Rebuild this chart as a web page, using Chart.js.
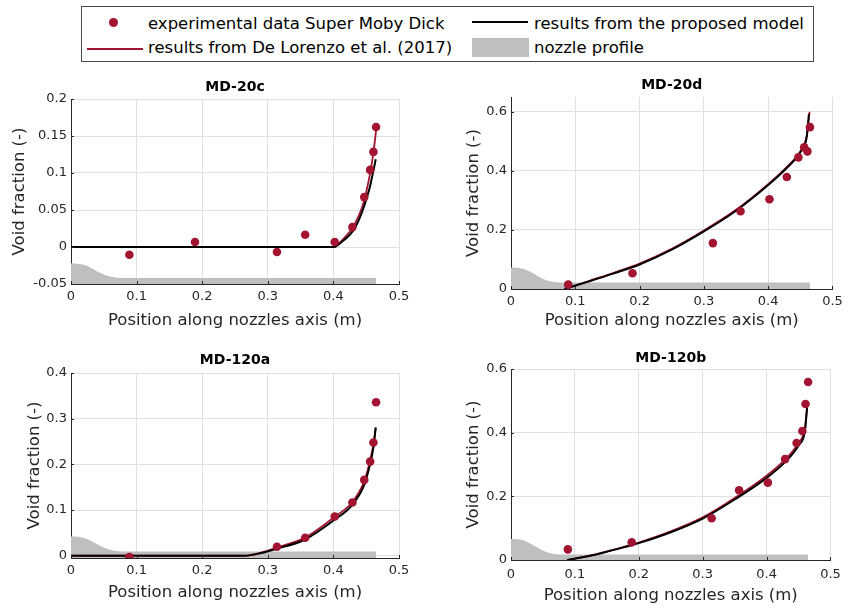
<!DOCTYPE html>
<html>
<head>
<meta charset="utf-8">
<title>Void fraction along the nozzle — Super Moby Dick</title>
<script src="https://cdn.jsdelivr.net/npm/chart.js@4.4.1/dist/chart.umd.min.js"></script>
<style>
  html, body { margin: 0; padding: 0; background: #fff; }
  body { position: relative; width: 848px; height: 611px; overflow: hidden;
         font-family: "DejaVu Sans", sans-serif; color: #000; }
  canvas { position: absolute; }
  .lg-box { position: absolute; left: 81px; top: 6px; width: 733px; height: 56px;
            border: 1px solid #4a4a4a; box-sizing: border-box; }
  .lg-text { position: absolute; font-size: 16.5px; line-height: 20px; white-space: nowrap; }
  .lg-line { position: absolute; height: 2px; }
  .lg-dot { position: absolute; width: 9px; height: 9px; border-radius: 50%; }
  .lg-patch { position: absolute; }
</style>
</head>
<body>

<div class="lg-box"></div>
<div class="lg-dot" style="left:109px;top:18px;background:#a2142f"></div>
<div class="lg-text" style="left:148px;top:14px">experimental data Super Moby Dick</div>
<div class="lg-line" style="left:472px;top:21px;width:56px;background:#000"></div>
<div class="lg-text" style="left:534px;top:14px">results from the proposed model</div>
<div class="lg-line" style="left:87px;top:48px;width:56px;background:#a2142f"></div>
<div class="lg-text" style="left:148px;top:37.5px">results from De Lorenzo et al. (2017)</div>
<div class="lg-patch" style="left:472px;top:38px;width:57px;height:19px;background:#bfbfbf"></div>
<div class="lg-text" style="left:534px;top:37.5px">nozzle profile</div>

<canvas id="md20c"></canvas>
<canvas id="md20d"></canvas>
<canvas id="md120a"></canvas>
<canvas id="md120b"></canvas>

<script>
// ---- shared axis ticks -------------------------------------------------
const xTicks = [0, 0.1, 0.2, 0.3, 0.4, 0.5];
const xTickLabels = ['0', '0.1', '0.2', '0.3', '0.4', '0.5'];

// nozzle profile abscissae (m); heights are given per panel in its own units
const nozzleX = [0, 0.01, 0.02, 0.03, 0.04, 0.05, 0.06, 0.07, 0.08, 0.465];

// probe stations along the nozzle (m)
const probeX = [0.089, 0.189, 0.314, 0.357, 0.402, 0.429, 0.447, 0.456, 0.461, 0.465];
const probeX120a = [0.089, 0.314, 0.357, 0.402, 0.429, 0.447, 0.456, 0.461, 0.465];

// ---- MD-20c ------------------------------------------------------------
const yTicks20c = [-0.05, 0, 0.05, 0.1, 0.15, 0.2];
const yLabels20c = ['-0.05', '0', '0.05', '0.1', '0.15', '0.2'];
const exp20c = [-0.0104, 0.0067, -0.0068, 0.0165, 0.0067, 0.0269, 0.0674, 0.1042, 0.1285, 0.1622];
const modelX20c = [0, 0.401, 0.413, 0.425, 0.433, 0.44, 0.446, 0.45, 0.455, 0.458, 0.4615, 0.4645];
const model20c  = [0, 0, 0.007, 0.0165, 0.026, 0.039, 0.053, 0.064, 0.079, 0.091, 0.105, 0.1186];
const refX20c = [0, 0.401, 0.413, 0.425, 0.433, 0.44, 0.446, 0.45, 0.455, 0.458, 0.461, 0.4635, 0.4655];
const ref20c  = [0, 0, 0.009, 0.021, 0.032, 0.045, 0.06, 0.074, 0.095, 0.11, 0.128, 0.145, 0.162];
const nozzle20c = [-0.022, -0.0225, -0.024, -0.028, -0.033, -0.037, -0.040, -0.0415, -0.042, -0.042];

// ---- MD-20d ------------------------------------------------------------
const yTicks20d = [0, 0.2, 0.4, 0.6];
const yLabels20d = ['0', '0.2', '0.4', '0.6'];
const exp20d = [0.0147, 0.0533, 0.1554, 0.263, 0.304, 0.379, 0.4457, 0.4798, 0.466, 0.548];
const modelX20d = [0.083, 0.12, 0.16, 0.2, 0.25, 0.3, 0.35, 0.4, 0.43, 0.45, 0.46, 0.4634];
const model20d  = [0, 0.025, 0.053, 0.083, 0.133, 0.195, 0.265, 0.352, 0.412, 0.463, 0.515, 0.593];
const refX20d = [0.085, 0.12, 0.16, 0.2, 0.25, 0.3, 0.35, 0.4, 0.43, 0.45, 0.46, 0.4644];
const ref20d  = [0, 0.026, 0.055, 0.086, 0.136, 0.198, 0.268, 0.355, 0.415, 0.466, 0.52, 0.6];
const nozzle20d = [0.073, 0.072, 0.068, 0.058, 0.046, 0.034, 0.026, 0.023, 0.022, 0.022];

// ---- MD-120a -----------------------------------------------------------
const yTicks120a = [0, 0.1, 0.2, 0.3, 0.4];
const yLabels120a = ['0', '0.1', '0.2', '0.3', '0.4'];
const exp120a = [-0.003, 0.0197, 0.0393, 0.086, 0.1166, 0.166, 0.206, 0.248, 0.336];
const modelX120a = [0, 0.265, 0.29, 0.3134, 0.356, 0.4, 0.4285, 0.447, 0.455, 0.461, 0.4645];
const model120a  = [0, 0, 0.006, 0.0153, 0.035, 0.077, 0.111, 0.155, 0.195, 0.237, 0.281];
const refX120a = [0, 0.265, 0.29, 0.3134, 0.356, 0.4, 0.4285, 0.447, 0.455, 0.461, 0.4645];
const ref120a  = [0, 0, 0.007, 0.0175, 0.039, 0.083, 0.117, 0.163, 0.203, 0.243, 0.28];
const nozzle120a = [0.042, 0.0415, 0.039, 0.033, 0.025, 0.018, 0.013, 0.0105, 0.0095, 0.0095];

// ---- MD-120b -----------------------------------------------------------
const yTicks120b = [0, 0.2, 0.4, 0.6];
const yLabels120b = ['0', '0.2', '0.4', '0.6'];
const exp120b = [0.0335, 0.0555, 0.131, 0.219, 0.243, 0.317, 0.3675, 0.405, 0.49, 0.559];
const modelX120b = [0.088, 0.12, 0.15, 0.2, 0.25, 0.3, 0.35, 0.4, 0.43, 0.45, 0.46, 0.4634];
const model120b  = [0, 0.0115, 0.026, 0.053, 0.087, 0.13, 0.19, 0.258, 0.31, 0.36, 0.405, 0.477];
const refX120b = [0.088, 0.12, 0.15, 0.2, 0.25, 0.3, 0.35, 0.4, 0.43, 0.45, 0.46, 0.4638];
const ref120b  = [0, 0.012, 0.027, 0.055, 0.09, 0.134, 0.195, 0.265, 0.318, 0.368, 0.414, 0.488];
const nozzle120b = [0.066, 0.065, 0.061, 0.052, 0.041, 0.030, 0.022, 0.018, 0.017, 0.017];

// ---- styling -----------------------------------------------------------
const RED = '#a2142f';
const GRAY = '#bfbfbf';
const INK = '#262626';
const GRID = '#e0e0e0';
const FONT = '"DejaVu Sans", sans-serif';
const LABEL_SIZE = 16.5;
const LABEL_LH = LABEL_SIZE * 1.2;

// bold panel heading centred over the plotting area
const panelTitle = {
  id: 'panelTitle',
  afterDraw(chart, args, opts) {
    const { ctx, chartArea } = chart;
    ctx.save();
    ctx.font = 'bold 14px ' + FONT;
    ctx.fillStyle = '#000';
    ctx.textAlign = 'center';
    ctx.textBaseline = 'middle';
    ctx.fillText(opts.text, (chartArea.left + chartArea.right) / 2, opts.y);
    ctx.restore();
  }
};

// short tick marks pointing into the plotting area
const innerTicks = {
  id: 'innerTicks',
  afterDatasetsDraw(chart) {
    const { ctx, chartArea, scales } = chart;
    const len = 3;
    ctx.save();
    ctx.strokeStyle = INK;
    ctx.lineWidth = 1;
    ctx.beginPath();
    scales.x.ticks.forEach(t => {
      const px = Math.round(scales.x.getPixelForValue(t.value)) + 0.5;
      ctx.moveTo(px, chartArea.bottom);
      ctx.lineTo(px, chartArea.bottom - len);
    });
    scales.y.ticks.forEach(t => {
      const py = Math.round(scales.y.getPixelForValue(t.value)) + 0.5;
      ctx.moveTo(chartArea.left, py);
      ctx.lineTo(chartArea.left + len, py);
    });
    ctx.stroke();
    ctx.restore();
  }
};

const pairs = (xs, ys) => xs.map((x, i) => ({ x, y: ys[i] }));

function panel(id, g, d) {
  const b = g.box, a = g.area;
  const c = document.getElementById(id);
  c.width = b.w; c.height = b.h;
  c.style.left = b.x + 'px'; c.style.top = b.y + 'px';
  c.style.width = b.w + 'px'; c.style.height = b.h + 'px';

  new Chart(c, {
    type: 'scatter',
    plugins: [innerTicks, panelTitle],
    data: {
      datasets: [
        { label: 'experimental data Super Moby Dick', data: pairs(d.expX, d.expY),
          pointRadius: 4.3, pointBackgroundColor: RED, pointBorderWidth: 0,
          borderWidth: 0, showLine: false, order: 0 },
        { type: 'line', label: 'results from the proposed model', data: pairs(d.modelX, d.modelY),
          borderColor: '#000', borderWidth: 2, pointRadius: 0, fill: false,
          cubicInterpolationMode: 'monotone', order: 1 },
        { type: 'line', label: 'results from De Lorenzo et al. (2017)', data: pairs(d.refX, d.refY),
          borderColor: RED, borderWidth: 1.8, pointRadius: 0, fill: false,
          cubicInterpolationMode: 'monotone', order: 2 },
        { type: 'line', label: 'nozzle profile', data: pairs(nozzleX, d.nozzleY),
          borderColor: 'rgba(0,0,0,0)', borderWidth: 0, backgroundColor: GRAY,
          pointRadius: 0, fill: 'start', cubicInterpolationMode: 'monotone', order: 3 }
      ]
    },
    options: {
      responsive: false,
      animation: false,
      events: [],
      devicePixelRatio: 1,
      layout: { padding: { left: 0, top: a.top - b.y, right: b.x + b.w - a.right, bottom: 0 } },
      plugins: {
        legend: { display: false },
        tooltip: { enabled: false },
        panelTitle: { text: d.title, y: g.titleY - b.y }
      },
      scales: {
        x: {
          type: 'linear', min: 0, max: 0.5,
          afterBuildTicks: s => { s.ticks = xTicks.map(v => ({ value: v })); },
          afterFit: s => { s.height = b.y + b.h - a.bottom; },
          ticks: { autoSkip: false, maxRotation: 0, color: INK,
                   padding: g.xTickY - a.bottom - 7.8,
                   font: { family: FONT, size: 13 },
                   callback: (v, i) => xTickLabels[i] },
          grid: { color: GRID, lineWidth: 1, drawTicks: false },
          border: { color: INK, width: 1 },
          title: { display: true, text: 'Position along nozzles axis (m)', color: INK,
                   font: { family: FONT, size: LABEL_SIZE },
                   padding: { top: 0, bottom: b.y + b.h - g.xTitleY - LABEL_LH / 2 } }
        },
        y: {
          type: 'linear', min: d.yMin, max: d.yMax,
          afterBuildTicks: s => { s.ticks = d.yTicks.map(v => ({ value: v })); },
          afterFit: s => { s.width = a.left - b.x; },
          ticks: { autoSkip: false, color: INK, padding: 4,
                   font: { family: FONT, size: 13 },
                   callback: (v, i) => d.yLabels[i] },
          grid: { color: GRID, lineWidth: 1, drawTicks: false },
          border: { color: INK, width: 1 },
          title: { display: true, text: 'Void fraction (-)', color: INK,
                   font: { family: FONT, size: LABEL_SIZE },
                   padding: { top: g.yTitleX - b.x - LABEL_LH / 2, bottom: 0 } }
        }
      }
    }
  });
}

panel('md20c',
  { box: { x: 0, y: 70, w: 420, h: 270 }, area: { left: 71, right: 399, top: 99, bottom: 284 },
    yTitleX: 20, xTickY: 297, xTitleY: 321, titleY: 87 },
  { title: 'MD-20c', yMin: -0.05, yMax: 0.2, yTicks: yTicks20c, yLabels: yLabels20c,
    expX: probeX, expY: exp20c, modelX: modelX20c, modelY: model20c,
    refX: refX20c, refY: ref20c, nozzleY: nozzle20c });

panel('md20d',
  { box: { x: 420, y: 70, w: 428, h: 270 }, area: { left: 511, right: 838, top: 97, bottom: 289 },
    yTitleX: 474, xTickY: 302, xTitleY: 321, titleY: 85 },
  { title: 'MD-20d', yMin: 0, yMax: 0.65, yTicks: yTicks20d, yLabels: yLabels20d,
    expX: probeX, expY: exp20d, modelX: modelX20d, modelY: model20d,
    refX: refX20d, refY: ref20d, nozzleY: nozzle20d });

panel('md120a',
  { box: { x: 0, y: 340, w: 420, h: 271 }, area: { left: 71, right: 399, top: 373, bottom: 558 },
    yTitleX: 35, xTickY: 571, xTitleY: 593, titleY: 360 },
  { title: 'MD-120a', yMin: -0.005, yMax: 0.4, yTicks: yTicks120a, yLabels: yLabels120a,
    expX: probeX120a, expY: exp120a, modelX: modelX120a, modelY: model120a,
    refX: refX120a, refY: ref120a, nozzleY: nozzle120a });

panel('md120b',
  { box: { x: 420, y: 340, w: 428, h: 271 }, area: { left: 511, right: 838, top: 369, bottom: 560 },
    yTitleX: 474, xTickY: 575, xTitleY: 596, titleY: 358 },
  { title: 'MD-120b', yMin: 0, yMax: 0.6, yTicks: yTicks120b, yLabels: yLabels120b,
    expX: probeX, expY: exp120b, modelX: modelX120b, modelY: model120b,
    refX: refX120b, refY: ref120b, nozzleY: nozzle120b });
</script>
</body>
</html>
